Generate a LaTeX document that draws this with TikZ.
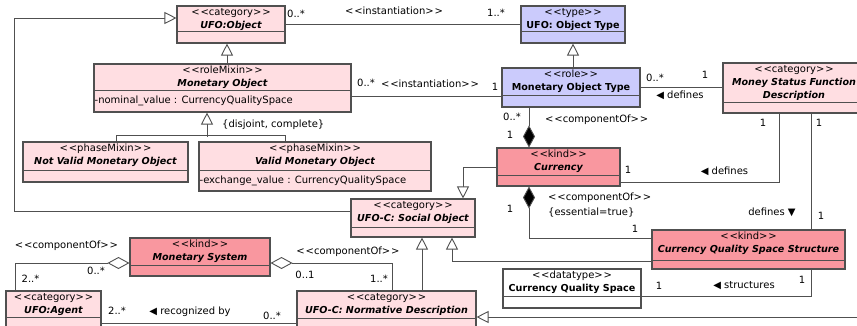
\documentclass[tikz,border=0pt]{standalone}
\usepackage{fontspec}
\setmainfont{DejaVu Sans}
\usetikzlibrary{arrows.meta}

\definecolor{clsLight}{HTML}{FFDEE2}
\definecolor{clsDark}{HTML}{F9979F}
\definecolor{clsBlue}{HTML}{CBCBFC}
\definecolor{umlGray}{HTML}{505050}

\newcommand\stereo[1]{\textless\kern0.8pt\textless#1\textgreater\kern0.8pt\textgreater}

\begin{document}
\begin{tikzpicture}[x=1pt,y=-1pt,
    font=\fontsize{10}{12}\selectfont,
    cls/.style={draw=umlGray,line width=1.1pt,inner sep=0pt},
    txt/.style={inner sep=0pt,text height=7.5pt,text depth=2pt},
    nm/.style={txt,font=\fontsize{9.6}{11}\selectfont\bfseries\itshape},
    nmup/.style={txt,font=\fontsize{9.6}{11}\selectfont\bfseries},
    edge/.style={draw=umlGray,line width=0.9pt},
    gen/.style={edge,-{Triangle[fill=white,length=12pt,width=12pt]}},
    comp/.style={edge,{Diamond[fill=black,length=22pt,width=12pt]}-},
    agg/.style={edge,{Diamond[fill=white,length=22pt,width=12pt]}-}]
  \useasboundingbox (0,0) rectangle (857,325);

  % Klasser: kasse og skillelinje
  \foreach \id/\px/\py/\bw/\bh/\cs/\col in {
      obj/231/24.5/108/37/26/clsLight,
      objtype/573/24.5/104/37/26/clsBlue,
      monobj/222.5/88/257/48/27/clsLight,
      montype/571/87.5/138/39/28/clsBlue,
      msfd/794/88/142/50/40/clsLight,
      notvalid/105.5/162/165/40/29/clsLight,
      valid/315/166.5/232/49/29/clsLight,
      currency/558.5/167/123/38/28/clsDark,
      social/413/218/124/38/29/clsLight,
      cqss/748.5/249.5/193/39/31/clsDark,
      monsys/200/257/140/38/28/clsDark,
      cqs/572/288.5/138/39/28/white,
      agent/53.5/313/95/44/27/clsLight,
      normdesc/386.5/313/179/44/28/clsLight} {
    \node[cls,fill=\col,minimum width=\bw pt,minimum height=\bh pt] (\id) at (\px,\py) {};
    \draw[cls] ([yshift=-\cs pt]\id.north west) -- ([yshift=-\cs pt]\id.north east);
  }

  % Stereotyper
  \foreach \id/\st in {obj/category,objtype/type,monobj/roleMixin,montype/role,
      msfd/category,notvalid/phaseMixin,valid/phaseMixin,currency/kind,
      social/category,cqss/kind,monsys/kind,cqs/datatype,agent/category,
      normdesc/category}
    \node[txt] (\id-st) at ([yshift=-7.5pt]\id.north) {\stereo{\st}};

  % Klassenavne
  \foreach \id/\lab in {obj/UFO:Object,monobj/Monetary Object,
      notvalid/Not Valid Monetary Object,valid/Valid Monetary Object,
      currency/Currency,social/UFO-C: Social Object,
      cqss/Currency Quality Space Structure,monsys/Monetary System,
      agent/UFO:Agent,normdesc/UFO-C: Normative Description}
    \node[nm] (\id-nm) at ([yshift=-20.5pt]\id.north) {\lab};
  \foreach \id/\lab in {objtype/UFO: Object Type,montype/Monetary Object Type,
      cqs/Currency Quality Space}
    \node[nmup] (\id-nm) at ([yshift=-20.5pt]\id.north) {\lab};
  \node[nm] (msfd-nm) at ([yshift=-20pt]msfd.north) {Money Status Function};
  \node[nm] (msfd-nm2) at ([yshift=-33pt]msfd.north) {Description};

  % Attributter
  \node[txt,anchor=west] (monobj-at) at ([xshift=1pt,yshift=-37.5pt]monobj.north west)
    {-nominal\_value : CurrencyQualitySpace};
  \node[txt,anchor=west] (valid-at) at ([xshift=1pt,yshift=-39pt]valid.north west)
    {-exchange\_value : CurrencyQualitySpace};

  % Generaliseringer
  \draw[gen] (montype.north -| objtype.south) -- (objtype.south);
  \draw[gen] ([xshift=-4pt]obj.south |- monobj.north) -- ([xshift=-4pt]obj.south);
  \draw[edge] ([xshift=10.5pt]notvalid.north) -- ++(0,-6) -| ([xshift=-30pt]valid.north);
  \draw[gen] ([xshift=-15.5pt,yshift=-24pt]monobj.south) -- ([xshift=-15.5pt]monobj.south);
  \draw[gen] (currency.west) -| ([xshift=50pt]social.north);
  \draw[gen] ([yshift=7pt]social.west) -| (14,18) -- ([yshift=6.5pt]obj.west);
  \draw[gen] ([yshift=-11.5pt]cqss.west) -| ([xshift=39pt]social.south);
  \draw[gen] ([xshift=35.5pt]normdesc.north) -- ([xshift=35.5pt]normdesc.north |- social.south);
  \coordinate (offright) at (870,317);
  \draw[gen] (offright) -- (offright -| normdesc.east);

  % Associationer
  \draw[edge] (obj.east) -- (objtype.west);
  \draw[edge] ([yshift=-8pt]monobj.east) -- ([yshift=-8pt]monobj.east -| montype.west);
  \draw[edge] (montype.east) -- (montype.east -| msfd.west);
  \draw[edge] ([xshift=-15pt]msfd.south) |- ([yshift=-15pt]currency.east);
  \draw[edge] ([xshift=17pt]msfd.south) -- ([xshift=17pt]msfd.south |- cqss.north);
  \draw[edge] ([yshift=-7.5pt]cqs.east) -| ([xshift=62.5pt]cqss.south);
  \draw[edge] ([yshift=-10pt]agent.east) -- ([yshift=-10pt]agent.east -| normdesc.west);

  % Komposition og aggregering
  \draw[comp] ([xshift=-29.5pt]currency.north) -- ([xshift=-29.5pt]currency.north |- montype.south);
  \draw[comp] ([xshift=-29.5pt]currency.south) |- ([yshift=11.5pt]cqss.west);
  \draw[agg] ([yshift=-6pt]monsys.west) -| ([xshift=-38.5pt]agent.north);
  \draw[agg] ([yshift=-6pt]monsys.east) -| ([xshift=5.5pt]normdesc.north);

  % Multipliciteter
  \foreach \i/\px/\py/\lab in {1/296/15/0..*,2/496/14/1..*,3/366/84/0..*,4/495/88/1,
      5/655/79/0..*,6/705/76/1,7/512/118/0..*,8/510/136/1,9/763/124/1,
      10/819/124/1,11/628/171/1,12/821/217/1,13/510/210/1,14/635/230/1,
      15/659/287/1,16/802/281/1,17/30.5/280/2..*,18/96/272/0..*,
      19/305/276/0..1,20/379/280/1..*,21/117/312/2..*,22/272/317/0..*}
    \node[txt] (mult\i) at (\px,\py) {\lab};

  % Navne paa forbindelser
  \node[txt] (inst-top) at (394,12) {\stereo{instantiation}};
  \node[txt] (inst-mid) at (430,85) {\stereo{instantiation}};
  \node[txt] (def-type) at (680,96) {◀ defines};
  \node[txt] (def-cur) at (724.5,172) {◀ defines};
  \node[txt] (def-cqss) at (772,213) {defines ▼};
  \node[txt] (struct) at (744,286) {◀ structures};
  \node[txt] (comp-agent) at (66.5,246) {\stereo{componentOf}};
  \node[txt] (comp-norm) at (348,252) {\stereo{componentOf}};
  \node[txt] (recog) at (190,312) {◀ recognized by};
  \node[txt,anchor=west] (comp-cur) at (545,120) {\stereo{componentOf}};
  \node[txt,anchor=west] (comp-cqss) at (548,198) {\stereo{componentOf}};
  \node[txt,anchor=west] (essential) at (548,213) {\{essential=true\}};
  \node[txt,anchor=west] (disjoint) at (222,125) {\{disjoint, complete\}};
\end{tikzpicture}
\end{document}
